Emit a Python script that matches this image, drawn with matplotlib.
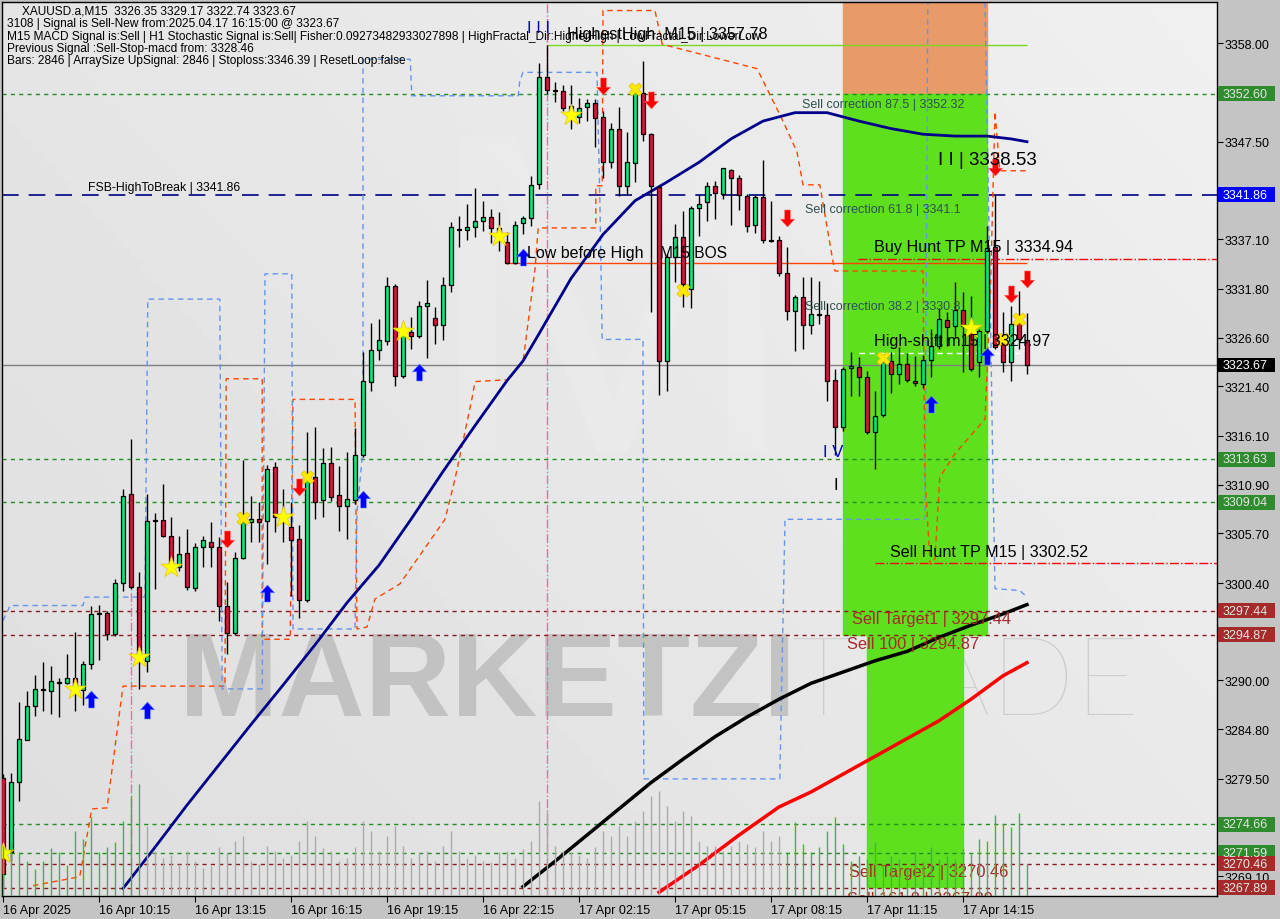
import numpy as np
import matplotlib
matplotlib.use("Agg")
from matplotlib import pyplot as plt
from matplotlib.patches import Rectangle
from matplotlib.path import Path

plt.rcParams['font.family'] = ['Liberation Sans', 'DejaVu Sans']

# XAUUSD.a M15 bars, 16 Apr 07:15 .. 17 Apr 16:15
opens = [3279.6, 3271.7, 3279.2, 3283.7, 3287.3, 3289.0, 3288.9, 3289.7, 3289.7, 3290.3,
         3289.0, 3291.8, 3297.1, 3297.2, 3295.0, 3300.4, 3309.9, 3300.0, 3292.1, 3307.0,
         3307.1, 3305.4, 3302.1, 3303.6, 3299.9, 3304.2, 3304.8, 3304.2, 3297.9, 3295.1,
         3303.1, 3306.9, 3307.2, 3307.0, 3312.8, 3307.4, 3306.4, 3305.1, 3298.6, 3311.7,
         3309.3, 3313.2, 3309.8, 3308.6, 3309.3, 3314.1, 3321.9, 3325.3, 3326.2, 3332.1,
         3322.5, 3327.2, 3326.8, 3330.0, 3328.7, 3327.9, 3332.2, 3338.1, 3338.1, 3338.4,
         3339.0, 3339.5, 3338.3, 3336.8, 3334.6, 3338.8, 3339.4, 3343.0, 3354.4, 3352.9,
         3352.9, 3351.3, 3350.1, 3351.2, 3351.6, 3350.1, 3345.3, 3348.9, 3342.8, 3345.2,
         3352.7, 3348.3, 3342.7, 3324.1, 3335.2, 3337.3, 3331.8, 3340.4, 3341.1, 3342.8,
         3341.9, 3344.5, 3343.6, 3341.7, 3338.6, 3341.6, 3336.9, 3337.0, 3333.5, 3329.4,
         3330.9, 3327.9, 3329.0, 3329.0, 3322.1, 3317.0, 3323.4, 3323.5, 3322.4, 3316.5,
         3318.3, 3324.1, 3322.7, 3323.8, 3322.0, 3321.6, 3324.2, 3325.7, 3328.5, 3327.8,
         3329.5, 3327.8, 3324.0, 3327.3, 3336.3, 3326.2, 3324.0, 3328.3, 3326.35]
highs = [3280.0, 3280.1, 3287.7, 3288.9, 3290.6, 3292.0, 3291.5, 3290.3, 3292.8, 3295.2,
         3292.1, 3298.0, 3298.1, 3297.4, 3300.8, 3310.4, 3315.8, 3301.6, 3309.9, 3307.9,
         3311.0, 3307.4, 3305.4, 3306.2, 3304.7, 3305.4, 3306.9, 3305.3, 3300.5, 3303.7,
         3313.5, 3309.7, 3309.1, 3313.0, 3313.3, 3310.4, 3309.0, 3306.6, 3316.5, 3317.1,
         3314.8, 3314.9, 3312.9, 3314.4, 3316.9, 3325.1, 3328.2, 3328.6, 3333.1, 3332.3,
         3327.9, 3328.8, 3330.5, 3332.7, 3329.9, 3333.1, 3338.9, 3339.6, 3340.9, 3342.6,
         3341.2, 3340.3, 3340.0, 3337.9, 3339.0, 3339.6, 3343.8, 3355.9, 3357.8, 3353.9,
         3353.6, 3353.6, 3352.2, 3352.1, 3352.1, 3350.8, 3349.5, 3351.2, 3348.5, 3353.3,
         3356.1, 3348.4, 3342.8, 3335.5, 3338.7, 3340.1, 3340.6, 3341.8, 3343.2, 3343.3,
         3344.7, 3344.6, 3344.0, 3341.9, 3341.8, 3345.6, 3341.2, 3337.4, 3336.3, 3331.1,
         3333.1, 3333.1, 3332.6, 3330.3, 3323.2, 3323.5, 3325.1, 3324.5, 3323.0, 3320.9,
         3324.7, 3325.1, 3325.6, 3325.0, 3324.6, 3324.7, 3327.5, 3329.7, 3329.3, 3332.5,
         3331.5, 3331.0, 3327.5, 3338.5, 3341.8, 3329.3, 3330.0, 3331.6, 3329.17]
lows = [3268.0, 3270.7, 3277.1, 3283.6, 3286.2, 3286.7, 3286.4, 3286.1, 3289.6, 3286.7,
        3287.4, 3291.2, 3292.2, 3294.3, 3294.8, 3299.5, 3299.8, 3289.1, 3290.9, 3299.8,
        3305.3, 3301.7, 3301.7, 3299.7, 3299.6, 3302.1, 3302.1, 3296.3, 3292.8, 3294.9,
        3303.0, 3304.8, 3304.8, 3302.4, 3305.9, 3304.8, 3299.0, 3296.7, 3298.4, 3307.2,
        3307.5, 3309.2, 3306.0, 3305.1, 3308.8, 3313.9, 3320.9, 3324.2, 3325.8, 3321.4,
        3322.3, 3325.4, 3326.5, 3324.4, 3325.9, 3326.3, 3331.5, 3336.3, 3337.0, 3337.3,
        3338.0, 3336.7, 3335.8, 3334.5, 3334.5, 3337.7, 3338.5, 3342.5, 3352.6, 3351.7,
        3350.8, 3348.9, 3349.5, 3349.7, 3346.9, 3343.6, 3344.7, 3341.7, 3341.8, 3343.2,
        3347.6, 3329.3, 3320.5, 3320.9, 3332.5, 3329.9, 3329.7, 3337.4, 3339.0, 3339.2,
        3341.4, 3338.6, 3340.2, 3337.9, 3337.8, 3336.7, 3336.8, 3333.2, 3328.5, 3325.2,
        3325.4, 3327.0, 3328.0, 3319.8, 3314.1, 3316.6, 3320.4, 3320.4, 3316.3, 3312.6,
        3318.1, 3320.7, 3321.6, 3321.9, 3321.4, 3321.2, 3322.4, 3325.4, 3325.7, 3326.5,
        3322.9, 3323.0, 3322.4, 3327.1, 3325.4, 3322.9, 3322.0, 3325.4, 3322.74]
closes = [3269.4, 3279.2, 3283.8, 3287.3, 3289.1, 3289.1, 3289.9, 3289.8, 3290.3, 3289.1,
          3291.8, 3297.1, 3297.2, 3295.0, 3300.4, 3309.7, 3300.0, 3292.5, 3307.0, 3307.1,
          3305.4, 3301.9, 3303.5, 3300.0, 3304.2, 3305.0, 3304.2, 3297.9, 3295.1, 3303.1,
          3306.9, 3307.2, 3306.9, 3312.6, 3307.4, 3307.1, 3305.0, 3298.6, 3311.5, 3309.1,
          3313.2, 3309.6, 3308.6, 3309.4, 3314.1, 3322.0, 3325.3, 3326.3, 3332.1, 3322.5,
          3327.2, 3326.8, 3330.0, 3330.3, 3327.9, 3332.2, 3338.4, 3338.1, 3338.4, 3339.0,
          3339.5, 3338.3, 3337.4, 3334.6, 3338.6, 3339.4, 3342.9, 3354.4, 3353.0, 3352.9,
          3351.1, 3350.5, 3351.1, 3351.6, 3350.0, 3345.3, 3348.9, 3342.8, 3345.3, 3352.8,
          3348.3, 3342.8, 3324.1, 3335.2, 3337.3, 3332.3, 3340.4, 3340.9, 3342.8, 3342.0,
          3344.7, 3343.6, 3341.8, 3338.5, 3341.6, 3337.0, 3336.9, 3333.5, 3329.4, 3330.9,
          3327.9, 3329.1, 3329.0, 3322.0, 3317.0, 3323.2, 3323.6, 3322.4, 3316.5, 3318.2,
          3324.0, 3322.7, 3323.8, 3322.1, 3321.8, 3324.2, 3325.7, 3328.6, 3327.7, 3329.5,
          3327.8, 3323.2, 3327.3, 3336.2, 3325.6, 3324.0, 3328.0, 3326.4, 3323.67]
# tick volume per bar
volumes = [1000, 1080, 880, 700, 540, 700, 960, 880, 620, 1300, 1140, 1580, 880, 980, 1080,
           1500, 2000, 2240, 1400, 900, 760, 820, 640, 900, 700, 560, 600, 980, 860, 1100,
           1200, 700, 640, 1000, 900, 760, 820, 1100, 1500, 1200, 960, 900, 700, 760, 980,
           1500, 1300, 900, 1200, 1400, 1000, 760, 880, 900, 700, 1000, 1300, 900, 760, 820,
           700, 680, 880, 900, 760, 940, 1100, 1900, 1700, 1000, 900, 880, 820, 760, 980,
           1300, 1200, 1400, 1200, 1500, 1700, 2000, 2100, 1800, 1500, 1700, 1600, 1100,
           1000, 1000, 900, 1000, 1100, 1040, 980, 1300, 1100, 1200, 880, 1480, 1040, 880,
           980, 1300, 1580, 1040, 700, 800, 740, 1080, 640, 800, 740, 540, 880, 680, 980,
           740, 800, 740, 940, 840, 1140, 1100, 1620, 1440, 1380, 1660, 640]
vol_grey_from, vol_grey_to = 18, 97

# moving averages, read at every 4th bar
ma_fast_idx = [15, 19, 23, 27, 31, 35, 39, 43, 47, 51, 55, 59, 63, 65, 67, 71, 75, 79, 83,
               87, 91, 95, 99, 103, 107, 111, 115, 119, 123, 126, 128]
ma_fast = [3267.8, 3272.2, 3276.7, 3281.0, 3285.3, 3289.5, 3293.8, 3298.3, 3302.3, 3307.2,
           3312.3, 3317.2, 3322.0, 3324.1, 3327.0, 3332.9, 3337.6, 3341.2, 3343.2, 3345.3,
           3347.8, 3349.7, 3350.6, 3350.6, 3349.7, 3348.9, 3348.3, 3348.1, 3348.1, 3347.8,
           3347.5]
ma_slow_idx = [65, 69, 73, 77, 81, 85, 89, 93, 97, 101, 105, 109, 113, 117, 121, 125, 128]
ma_slow = [3268.0, 3270.7, 3273.5, 3276.3, 3279.1, 3281.6, 3284.0, 3286.1, 3288.0, 3289.7,
           3290.9, 3292.1, 3293.1, 3294.6, 3295.9, 3297.1, 3298.1]
ma_red_idx = [82, 87, 92, 97, 101, 105, 109, 113, 117, 121, 125, 128]
ma_red = [3267.4, 3270.3, 3273.5, 3276.5, 3278.1, 3280.0, 3281.9, 3283.8, 3285.7, 3288.0,
          3290.5, 3291.9]

# stepped fractal bands (bar index, price)
band_orange = [
    [(3.75, 3268.1), (9.25, 3269.0), (9.6, 3269.1), (11.1, 3276.3), (13.0, 3276.4),
     (15.0, 3289.4), (27.75, 3289.4), (27.9, 3322.2), (32.4, 3322.2), (32.4, 3294.4),
     (35.9, 3294.4), (36.25, 3320.0), (44.0, 3320.0), (44.25, 3295.5), (45.5, 3295.7),
     (46.5, 3298.7), (49.6, 3300.3), (55.25, 3307.2), (56.5, 3311.5), (58.6, 3320.0),
     (59.0, 3321.9), (63.1, 3322.1), (65.0, 3324.0), (66.5, 3333.9), (66.9, 3338.3),
     (74.1, 3338.3), (74.1, 3342.8), (74.9, 3342.8), (75.0, 3361.5), (81.5, 3361.5),
     (82.4, 3357.9), (94.25, 3355.3), (97.5, 3349.7), (99.25, 3346.4), (100.0, 3342.9),
     (102.1, 3342.9), (103.75, 3334.7), (104.0, 3333.7), (115.0, 3333.7), (115.25, 3311.5),
     (115.9, 3302.4), (116.5, 3303.0), (117.1, 3311.7), (119.0, 3314.2), (122.75, 3317.9),
     (123.4, 3330.7), (124.0, 3350.7), (124.6, 3344.4), (128.0, 3344.4)]]
band_blue = [
    [(0.0, 3296.4), (0.9, 3298.0), (10.0, 3298.0), (10.25, 3298.9), (17.75, 3298.9),
     (18.1, 3330.7), (27.1, 3330.7), (27.4, 3289.1), (32.4, 3289.1), (32.75, 3333.4),
     (36.1, 3333.4), (36.25, 3295.5), (44.0, 3295.5), (44.25, 3308.0), (45.0, 3314.7),
     (45.0, 3356.3), (50.9, 3356.3), (51.1, 3352.4), (64.4, 3352.4), (64.6, 3354.0),
     (65.0, 3354.9), (74.25, 3354.9), (74.6, 3341.7), (74.9, 3326.4), (80.0, 3326.4),
     (80.1, 3279.5), (97.1, 3279.5), (97.75, 3307.2), (115.25, 3307.2), (115.6, 3362.4)],
    [(122.75, 3362.4), (123.4, 3330.7), (123.75, 3311.5), (124.0, 3299.8), (127.1, 3299.6),
     (128.0, 3298.9)]]

# signal markers (bar index, price)
star_pts = [(0, 3271.6), (9, 3289.1), (17, 3292.5), (21, 3302.1), (35, 3307.4),
            (50, 3327.3), (62, 3337.4), (71, 3350.3), (121, 3327.6)]
cross_pts = [(30, 3307.3), (38, 3311.7), (79, 3353.1), (85, 3331.7), (110, 3324.4),
             (125, 3326.4), (127, 3328.6)]
up_arrows = [(11, 3288.0), (18, 3286.9), (33, 3299.3), (45, 3309.4), (52, 3322.9),
             (65, 3335.2), (116, 3319.5), (123, 3324.6)]
down_arrows = [(28, 3305.1), (37, 3310.7), (75, 3353.4), (81, 3352.0), (98, 3339.4),
               (124, 3344.8), (126, 3331.2), (128, 3332.8)]

# horizontal levels: price, line colour, price box colour
levels = [(3352.60, '#1f8f1f', '#2e8b2e'), (3313.63, '#1f8f1f', '#2e8b2e'),
          (3309.04, '#1f8f1f', '#2e8b2e'), (3297.44, '#8b1a1a', '#a52a2a'),
          (3294.87, '#8b1a1a', '#a52a2a'), (3274.66, '#1f8f1f', '#2e8b2e'),
          (3271.59, '#1f8f1f', '#2e8b2e'), (3270.46, '#8b1a1a', '#a52a2a'),
          (3267.89, '#8b1a1a', '#a52a2a')]
fsb_level = 3341.86
last_price = 3323.67
price_ticks = [3358.00, 3352.70, 3347.50, 3342.30, 3337.10, 3331.80, 3326.60, 3321.40,
               3316.10, 3310.90, 3305.70, 3300.40, 3295.10, 3290.00, 3284.80, 3279.50,
               3269.10]
time_ticks = [0, 12, 24, 36, 48, 60, 72, 84, 96, 108, 120]
time_labels = ["16 Apr 2025", "16 Apr 10:15", "16 Apr 13:15", "16 Apr 16:15",
               "16 Apr 19:15", "16 Apr 22:15", "17 Apr 02:15", "17 Apr 05:15",
               "17 Apr 08:15", "17 Apr 11:15", "17 Apr 14:15"]

header = ["XAUUSD.a,M15  3326.35 3329.17 3322.74 3323.67",
          "3108 | Signal is Sell-New from:2025.04.17 16:15:00 @ 3323.67",
          "M15 MACD Signal is:Sell | H1 Stochastic Signal is:Sell| Fisher:0.09273482933027898 "
          "| HighFractal_Dir:HigherHigh | LowFractal_Dir:LowerLow",
          "Previous Signal :Sell-Stop-macd from: 3328.46",
          "Bars: 2846 | ArraySize UpSignal: 2846 | Stoploss:3346.39 | ResetLoop:false"]

W, H = 1280, 920
fig = plt.figure(figsize=(W / 100, H / 100), dpi=100, facecolor='#c4c4c4')
ax = fig.add_axes([2 / W, 23 / H, 1215 / W, 894 / H])
x0, x1 = -0.125, 151.75
y0, y1 = 3267.0, 3362.41
ax.set_xlim(x0, x1)
ax.set_ylim(y0, y1)

# background shading
gx, gy = np.meshgrid(np.linspace(0, 1, 200), np.linspace(0, 1, 200))
grad = 0.87 + 0.07 * (0.6 * gx + 0.4 * gy)
ax.imshow(grad, extent=[x0, x1, y0, y1], origin='lower', aspect='auto',
          cmap='gray', vmin=0, vmax=1, zorder=0)

# watermark
ax.text(22, 3289.6, "MARKETZI", fontsize=86, fontweight='bold', color='#b8b8b8',
        alpha=0.75, ha='left', va='center', zorder=0.5)
ax.text(98.5, 3289.6, "TRADE", fontsize=80, color='#c6c6c6', family='Lato',
        fontweight='light', alpha=0.8, ha='left', va='center', zorder=0.5)
ax.text(76, 3327, "M", fontsize=330, color='#eeeeee', alpha=0.45, ha='center',
        va='center', zorder=0.5)

# volumes (own scale at the bottom)
axv = ax.twinx()
axv.set_ylim(0, 17880)
axv.set_axis_off()
vcol = ['#aaaaaa' if vol_grey_from <= i <= vol_grey_to else '#3cb83c'
        for i in range(len(volumes))]
axv.vlines(np.arange(len(volumes)), 0, volumes, colors=vcol, lw=1)

# zones
ax.add_patch(Rectangle((105, 3352.6), 18, y1 - 3352.6, color='#e89a68', zorder=1))
ax.add_patch(Rectangle((105, 3294.87), 18, 3352.6 - 3294.87, color='#5ee01e', zorder=1))
ax.add_patch(Rectangle((108, 3268.0), 12, 3294.87 - 3268.0, color='#5ee01e', zorder=1))

# level lines
for p, lc, bc in levels:
    ax.axhline(p, color=lc, lw=1, ls=(0, (3, 3)), zorder=2)
ax.axhline(fsb_level, color='#000080', lw=1.2, ls=(0, (10, 6)), zorder=2)
ax.axhline(last_price, color='#808080', lw=1, zorder=2)
ax.hlines(3357.78, 68, 128, color='#7cd622', lw=1, zorder=2)
ax.hlines(3334.55, 63, 128, color='#ff4500', lw=1, zorder=2)
ax.hlines(3334.94, 106.9, x1, color='#ff0000', lw=1, ls='-.', zorder=2)
ax.hlines(3302.52, 109, x1, color='#ff0000', lw=1, ls='-.', zorder=2)
ax.hlines(3324.97, 107, 127, color='white', lw=1, ls=(0, (4, 3)), zorder=2)
ax.vlines(68, y0, y1, color='#e76fa5', lw=1, ls='-.', zorder=2)
ax.vlines(16, y0, 3299.7, color='#e76fa5', lw=1, ls='-.', zorder=2)

for seg in band_orange:
    bx, by = zip(*seg)
    ax.plot(bx, by, color='#ff4500', lw=1, ls=(0, (4, 3)), zorder=2)
for seg in band_blue:
    bx, by = zip(*seg)
    ax.plot(bx, by, color='#6495ed', lw=1, ls=(0, (4, 3)), zorder=2)

# moving averages
ax.plot(ma_fast_idx, ma_fast, color='#00008b', lw=2, zorder=3)
ax.plot(ma_slow_idx, ma_slow, color='black', lw=2.5, zorder=3)
ax.plot(ma_red_idx, ma_red, color='#ff0000', lw=2.5, zorder=3)

# candles
o = np.array(opens); c = np.array(closes)
idx = np.arange(len(c))
up = c >= o
ax.vlines(idx, lows, highs, color='black', lw=1, zorder=4)
body = np.where(np.abs(c - o) < 0.05, 0.08, c - o)
ax.bar(idx[up], body[up], bottom=o[up], width=0.62, color='#00e676',
       edgecolor='black', lw=0.9, zorder=5)
ax.bar(idx[~up], body[~up], bottom=o[~up], width=0.62, color='#dc143c',
       edgecolor='black', lw=0.9, zorder=5)

# signals
arrow_up = Path([(-0.2, -0.6), (0.2, -0.6), (0.2, 0.05), (0.5, 0.05), (0, 0.6),
                 (-0.5, 0.05), (-0.2, 0.05), (-0.2, -0.6)])
arrow_dn = Path([(x, -y) for x, y in arrow_up.vertices])
sx, sy = zip(*star_pts)
ax.scatter(sx, sy, marker='*', s=260, color='#ffff00', edgecolor='#e8c000', lw=0.5, zorder=6)
cx, cy = zip(*cross_pts)
ax.scatter(cx, cy, marker='X', s=90, color='#ffe800', edgecolor='#e8c000', lw=0.5, zorder=6)
ux, uy = zip(*up_arrows)
ax.scatter(ux, uy, marker=arrow_up, s=150, color='#0000ff', edgecolor='#6a8cff', lw=0.4,
           zorder=6)
dx, dy = zip(*down_arrows)
ax.scatter(dx, dy, marker=arrow_dn, s=150, color='#ff0000', edgecolor='#ff7070', lw=0.4,
           zorder=6)

# chart labels
txt = dict(ha='left', va='center', zorder=7)
ax.text(65.5, 3359.7, "I I I", color='#0000cd', fontsize=12, **txt)
ax.text(70.5, 3359.1, "HighestHigh  M15 | 3357.78", color='black', fontsize=11.6, **txt)
ax.text(99.9, 3351.5, "Sell correction 87.5 | 3352.32", color='#2f4f4f', fontsize=9, **txt)
ax.text(100.2, 3340.3, "Sell correction 61.8 | 3341.1", color='#2f4f4f', fontsize=9, **txt)
ax.text(100.2, 3330.0, "Sell correction 38.2 | 3330.8", color='#2f4f4f', fontsize=9, **txt)
ax.text(116.9, 3345.6, "I I | 3338.53", color='black', fontsize=13.5, **txt)
ax.text(108.9, 3336.3, "Buy Hunt TP M15 | 3334.94", color='black', fontsize=11.6, **txt)
ax.text(108.9, 3326.3, "High-shift m15 | 3324.97", color='black', fontsize=11.6, **txt)
ax.text(110.9, 3303.8, "Sell Hunt TP M15 | 3302.52", color='black', fontsize=11.6, **txt)
ax.text(10.6, 3342.7, "FSB-HighToBreak | 3341.86", color='black', fontsize=8.8, **txt)
ax.text(65.5, 3335.7, "Low before High", color='black', fontsize=11.5, **txt)
ax.text(82.1, 3335.7, "M15 BOS", color='black', fontsize=11.2, **txt)
ax.text(102.5, 3314.4, "I V", color='#0000cd', fontsize=12, **txt)
ax.text(103.8, 3310.9, "I", color='black', fontsize=12, **txt)
ax.text(106.1, 3296.6, "Sell Target1 | 3297.44", color='#a52a2a', fontsize=11.8, **txt)
ax.text(105.5, 3294.0, "Sell 100 | 3294.87", color='#a52a2a', fontsize=11.8, **txt)
ax.text(105.7, 3269.6, "Sell Target2 | 3270.46", color='#a52a2a', fontsize=11.8, **txt)
ax.text(105.5, 3266.7, "Sell 161.8 | 3267.89", color='#a52a2a', fontsize=11.8,
        clip_on=True, **txt)

# price axis
ax.yaxis.tick_right()
ax.set_yticks(price_ticks)
ax.set_yticklabels([f"{p:.2f}" for p in price_ticks], fontsize=9)
ax.tick_params(axis='y', length=4, pad=1.5, direction='out')
trans = ax.get_yaxis_transform()


def price_box(p, fc, tc):
    ax.add_patch(Rectangle((1.0008, p - 0.8), 57 / 1215, 1.6, transform=trans, fc=fc,
                           ec='none', clip_on=False, zorder=8))
    ax.text(1.0045, p, f"{p:.2f}", transform=trans, fontsize=9, color=tc, va='center',
            ha='left', clip_on=False, zorder=9)


for p, lc, bc in levels:
    price_box(p, bc, '#e6e6e6')
price_box(fsb_level, '#0000ff', 'white')
price_box(last_price, 'black', 'white')

# time axis
ax.set_xticks(time_ticks)
ax.set_xticklabels(time_labels, fontsize=9, ha='left')
ax.tick_params(axis='x', length=4, pad=2, direction='out')

for s in ax.spines.values():
    s.set_color('black')
    s.set_linewidth(1)

# header
for k, line in enumerate(header):
    fig.text((22 if k == 0 else 7) / W, 1 - (12 + 12.3 * k) / H, line, fontsize=8.6,
             color='black', va='center', ha='left')

fig.savefig("out.png", dpi=100, facecolor=fig.get_facecolor())
